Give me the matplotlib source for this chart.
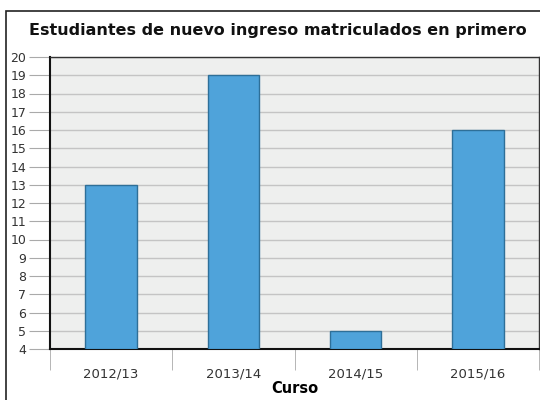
import matplotlib.pyplot as plt
from matplotlib.patches import Rectangle

cursos = ["2012/13", "2013/14", "2014/15", "2015/16"]
estudiantes = [13, 19, 5, 16]
y_ticks = list(range(4, 21))

fig = plt.figure(figsize=(5.4, 4.0), dpi=100)
fig.patches.append(Rectangle((6 / 540, -0.1), 1.2, 1.1 - 11 / 400, transform=fig.transFigure,
                             fill=False, edgecolor="#222222", linewidth=1.2))

ax = fig.add_axes([50 / 540, 51 / 400, 489 / 540, 292 / 400])
ax.set_facecolor("#eeefee")

x = list(range(len(cursos)))
ax.bar(x, [v - 4 for v in estudiantes], bottom=4, width=0.42,
       color="#4fa3da", edgecolor="#2e6f98", linewidth=1, zorder=3)

ax.set_xlim(-0.5, len(cursos) - 0.5)
ax.set_ylim(4, 20)
ax.set_yticks(y_ticks)
ax.set_yticklabels([str(t) for t in y_ticks], fontsize=9, color="#333333")
ax.yaxis.grid(True, color="#c4c4c4", linewidth=1, zorder=0)
ax.tick_params(axis="y", length=15, color="#aaaaaa", pad=2)

# category labels at centres, tick marks at boundaries
ax.set_xticks(x)
ax.set_xticklabels(cursos, fontsize=9.5, color="#333333")
ax.set_xticks([i - 0.5 for i in range(len(cursos) + 1)], minor=True)
ax.tick_params(axis="x", which="major", length=0, pad=13)
ax.tick_params(axis="x", which="minor", length=15, color="#aaaaaa")

for s in ["left", "bottom"]:
    ax.spines[s].set_color("#111111")
    ax.spines[s].set_linewidth(1.5)
for s in ["top", "right"]:
    ax.spines[s].set_color("#333333")
    ax.spines[s].set_linewidth(1)

ax.set_xlabel("Curso", fontsize=10.5, fontweight="bold", labelpad=1)
fig.text(0.515, 0.925, "Estudiantes de nuevo ingreso matriculados en primero",
         ha="center", va="center", fontsize=11.5, fontweight="bold", color="#111111")

fig.savefig("out.png", dpi=100)
